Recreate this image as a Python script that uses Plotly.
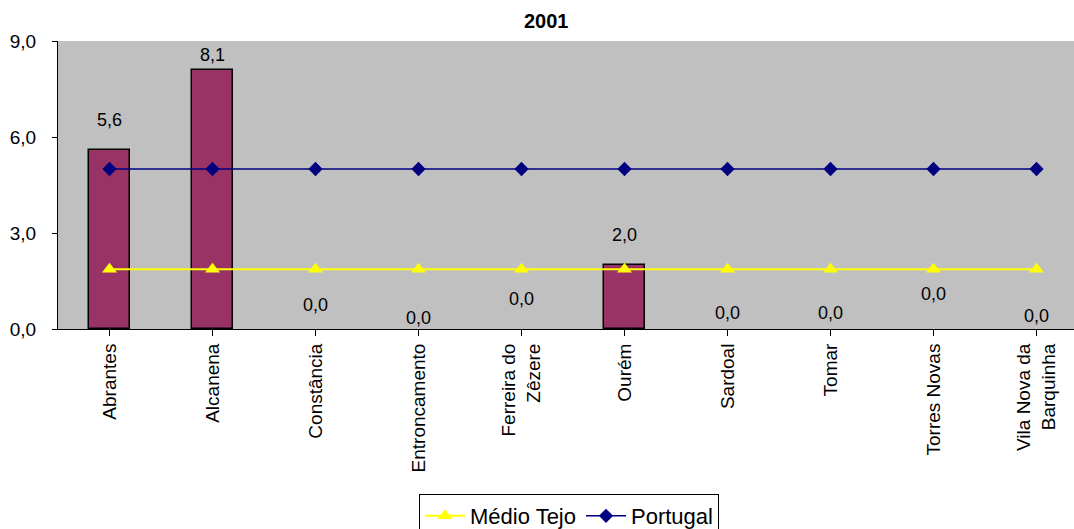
import plotly.graph_objects as go

categories = ["Abrantes", "Alcanena", "Constância", "Entroncamento", "Ferreira do<br>Zêzere",
              "Ourém", "Sardoal", "Tomar", "Torres Novas", "Vila Nova da<br>Barquinha"]
concelho_values = [5.6, 8.1, 0.0, 0.0, 0.0, 2.0, 0.0, 0.0, 0.0, 0.0]
medio_tejo_values = [1.87] * 10
portugal_values = [5.0] * 10
y_tick_values = [0, 3, 6, 9]
title_line1 = "Taxa de Mortalidade Infantil (Concelhos do Médio Tejo)"
title_line2 = "2001"

# label placement (pixels above bar top), as in the original layout
label_offsets_px = [30, 15, 24, 11, 30, 30, 16, 16, 35, 13]

FONT = "Arial, Liberation Sans, sans-serif"
x = list(range(len(categories)))

fig = go.Figure()
fig.add_trace(go.Bar(
    x=x, y=concelho_values, width=0.4,
    marker=dict(color="#993366",
                line=dict(color="black", width=[1.5 if v > 0 else 0 for v in concelho_values])),
    showlegend=False, hoverinfo="skip",
))
fig.add_trace(go.Scatter(
    x=x, y=medio_tejo_values, mode="lines+markers", name="Médio Tejo",
    line=dict(color="#FFFF00", width=2),
    marker=dict(symbol="triangle-up", size=13, color="#FFFF00"),
))
fig.add_trace(go.Scatter(
    x=x, y=portugal_values, mode="lines+markers", name="Portugal",
    line=dict(color="#000080", width=1.5),
    marker=dict(symbol="diamond", size=11, color="#000080"),
))

for xi, v, off in zip(x, concelho_values, label_offsets_px):
    fig.add_annotation(
        x=xi, y=v, xref="x", yref="y", text=f"{v:.1f}".replace(".", ","),
        showarrow=False, yanchor="middle", yshift=off,
        font=dict(family=FONT, size=18, color="black"),
    )

# title: first line lies mostly above the visible page, as in the original
fig.add_annotation(
    x=0.481, y=1.1632, xref="paper", yref="paper",
    text=f"<b>{title_line1}</b>",
    showarrow=False, xanchor="center", yanchor="middle", yshift=9,
    font=dict(family=FONT, size=20, color="black"),
)
fig.add_annotation(
    x=0.481, y=1.0694, xref="paper", yref="paper",
    text=f"<b>{title_line2}</b>",
    showarrow=False, xanchor="center", yanchor="middle",
    font=dict(family=FONT, size=20, color="black"),
)

plot_left = 58
fig.update_layout(
    width=1074, height=529,
    margin=dict(l=plot_left, r=0, t=41, b=200, pad=0, autoexpand=False),
    paper_bgcolor="white", plot_bgcolor="#C0C0C0",
    separators=",.",
    font=dict(family=FONT, size=18, color="black"),
    bargap=0,
    legend=dict(
        orientation="h", xref="container", yref="container",
        x=569 / 1074, xanchor="center", y=1 - 494 / 529, yanchor="top",
        bordercolor="black", borderwidth=1, bgcolor="white",
        font=dict(family=FONT, size=22, color="black"),
        itemwidth=40, tracegroupgap=0,
    ),
    xaxis=dict(
        range=[-0.5, -0.5 + (1074 - plot_left) / 103.0],
        tickmode="array", tickvals=x, ticktext=categories,
        tickangle=-90, tickson="boundaries", ticks="outside", ticklen=6,
        tickcolor="black", showline=True, linecolor="black", linewidth=1,
        showgrid=False, zeroline=False, automargin=False,
        tickfont=dict(family=FONT, size=19, color="black"),
        fixedrange=True,
    ),
    yaxis=dict(
        range=[0, 9], tickmode="array", tickvals=y_tick_values, tickformat=".1f",
        ticks="outside", ticklen=5, tickcolor="black",
        showline=True, linecolor="black", linewidth=1,
        showgrid=False, zeroline=False, ticklabelstandoff=12, automargin=False,
        tickfont=dict(family=FONT, size=19, color="black"),
        fixedrange=True,
    ),
)

fig.write_html(
    "out.html",
    config={"displayModeBar": False},
    post_script="document.body.style.margin='0';document.body.style.overflow='hidden';",
)
